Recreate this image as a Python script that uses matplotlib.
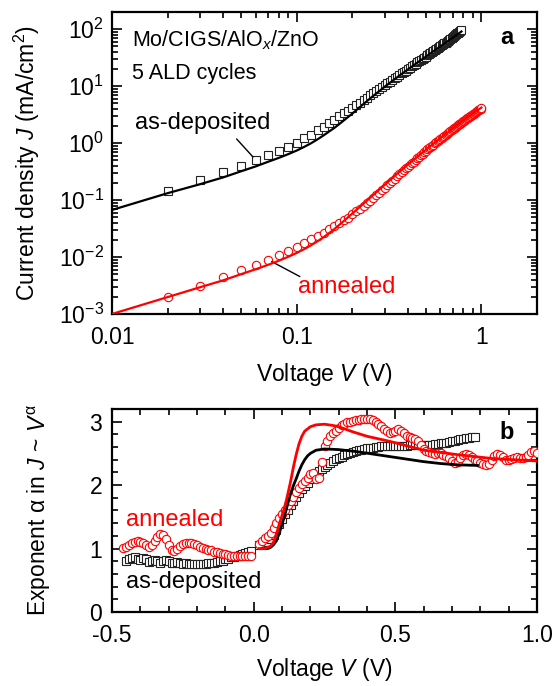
import numpy as np
import matplotlib
matplotlib.use('Agg')
import matplotlib.pyplot as plt
from matplotlib import ticker

plt.rcParams['font.family'] = ['Liberation Sans', 'DejaVu Sans']
plt.rcParams['mathtext.fontset'] = 'custom'
plt.rcParams['mathtext.rm'] = 'Liberation Sans'
plt.rcParams['mathtext.it'] = 'Liberation Sans:italic'
plt.rcParams['mathtext.bf'] = 'Liberation Sans:bold'
plt.rcParams['axes.unicode_minus'] = False

# ---- panel a: J-V on log-log scales (measured at 10 mV steps)

V_dep = np.round(np.arange(2, 79) * 0.01, 2)  # 0.02 ... 0.78 V
J_dep = [0.147, 0.226, 0.308, 0.403, 0.507, 0.619, 0.738, 0.867, 1.02, 1.21,
         1.41, 1.67, 1.95, 2.26, 2.59, 2.93, 3.31, 3.72, 4.17, 4.65,
         5.15, 5.71, 6.27, 6.89, 7.52, 8.17, 8.87, 9.59, 10.4, 11.2,
         12.0, 12.9, 13.8, 14.7, 15.7, 16.7, 17.8, 18.8, 20.0, 21.1,
         22.3, 23.4, 24.7, 26.1, 27.4, 28.8, 30.1, 31.6, 33.1, 34.8,
         36.2, 37.8, 39.4, 41.1, 42.9, 44.7, 46.3, 48.4, 50.2, 52.1,
         54.1, 56.0, 58.1, 60.3, 62.8, 65.2, 67.9, 70.5, 72.9, 75.7,
         78.3, 81.3, 84.3, 87.3, 90.6, 93.3, 96.6]

V_ann = np.round(np.arange(2, 101) * 0.01, 2)  # 0.02 ... 1.00 V
J_ann = [0.00195, 0.00312, 0.00444, 0.0058, 0.0073, 0.0089, 0.0109, 0.0130, 0.0152, 0.0179,
         0.0206, 0.0235, 0.0269, 0.0308, 0.0352, 0.0393, 0.0449, 0.0492, 0.0565, 0.0637,
         0.0708, 0.0794, 0.0881, 0.0977, 0.109, 0.121, 0.135, 0.149, 0.164, 0.181,
         0.199, 0.219, 0.238, 0.260, 0.282, 0.306, 0.333, 0.359, 0.387, 0.416,
         0.445, 0.474, 0.507, 0.541, 0.578, 0.612, 0.650, 0.690, 0.731, 0.773,
         0.811, 0.851, 0.893, 0.940, 0.986, 1.035, 1.081, 1.135, 1.183, 1.233,
         1.282, 1.337, 1.393, 1.449, 1.510, 1.563, 1.629, 1.687, 1.746, 1.807,
         1.866, 1.932, 2.000, 2.070, 2.138, 2.198, 2.275, 2.355, 2.421, 2.489,
         2.570, 2.642, 2.716, 2.793, 2.871, 2.972, 3.034, 3.119, 3.206, 3.296,
         3.388, 3.467, 3.565, 3.664, 3.750, 3.855, 3.936, 4.046, 4.140]

# model curves
Vfit_dep = [0.01, 0.02, 0.03, 0.04, 0.05, 0.06, 0.07, 0.08, 0.09, 0.10, 0.11, 0.12, 0.13,
            0.14, 0.15, 0.16, 0.18, 0.20, 0.22, 0.25, 0.30, 0.35, 0.40, 0.45, 0.50,
            0.55, 0.60, 0.65, 0.70, 0.75, 0.78]
Jfit_dep = [0.067, 0.132, 0.19, 0.25, 0.32, 0.39, 0.47, 0.55, 0.64, 0.74, 0.86, 1.0, 1.17,
            1.37, 1.6, 1.85, 2.5, 3.3, 4.3, 6.1, 9.8, 14.3, 19.6, 25.8, 32.8,
            40.8, 49.8, 59.8, 71.0, 83.0, 91.0]
Vfit_ann = [0.01, 0.02, 0.03, 0.04, 0.05, 0.06, 0.07, 0.08, 0.09, 0.10, 0.11, 0.12, 0.13,
            0.14, 0.15, 0.16, 0.18, 0.20, 0.22, 0.25, 0.30, 0.35, 0.40, 0.50, 0.60,
            0.70, 0.80, 0.90, 1.00]
Jfit_ann = [0.0010, 0.00198, 0.00295, 0.0039, 0.0050, 0.0061, 0.0073, 0.0086, 0.0101, 0.0118,
            0.0138, 0.0162, 0.019, 0.0224, 0.0264, 0.031, 0.043, 0.058, 0.076, 0.110,
            0.186, 0.29, 0.42, 0.76, 1.22, 1.80, 2.50, 3.3, 4.2]

# ---- panel b: exponent alpha = dlnJ/dlnV

Vb_dep_neg = np.round(np.arange(-45, 0) * 0.01, 2)  # -0.45 ... -0.01 V
a_dep_neg = [0.80, 0.83, 0.85, 0.86, 0.84, 0.82, 0.85, 0.83, 0.79, 0.80,
             0.82, 0.81, 0.78, 0.80, 0.82, 0.80, 0.78, 0.77, 0.79, 0.78,
             0.76, 0.77, 0.76, 0.75, 0.76, 0.76, 0.75, 0.76, 0.76, 0.77,
             0.77, 0.78, 0.79, 0.80, 0.81, 0.83, 0.84, 0.86, 0.87, 0.88,
             0.90, 0.92, 0.93, 0.95, 0.96]
a_dep_pos = [1.05, 1.06, 1.08, 1.11, 1.15, 1.21, 1.29, 1.38, 1.46, 1.54,
             1.61, 1.68, 1.75, 1.82, 1.88, 1.94, 1.99, 2.04, 2.09, 2.14,
             2.18, 2.22, 2.26, 2.29, 2.32, 2.35, 2.38, 2.41, 2.43, 2.45,
             2.47, 2.49, 2.51, 2.52, 2.54, 2.55, 2.56, 2.57, 2.58, 2.59,
             2.59, 2.60, 2.60, 2.61, 2.61, 2.61, 2.62, 2.62, 2.62, 2.62,
             2.62, 2.62, 2.62, 2.63, 2.63, 2.63, 2.63, 2.63, 2.63, 2.64,
             2.64, 2.64, 2.65, 2.65, 2.66, 2.66, 2.67, 2.68, 2.69, 2.70,
             2.71, 2.72, 2.73, 2.74, 2.75, 2.76, 2.76]

Vb_ann_neg = np.round(np.arange(-46, 0) * 0.01, 2)  # -0.46 ... -0.01 V
a_ann_neg = [1.01, 1.03, 1.06, 1.09, 1.11, 1.12, 1.11, 1.08, 1.05, 1.03,
             1.06, 1.12, 1.18, 1.23, 1.22, 1.15, 1.05, 0.97, 0.96, 1.00,
             1.04, 1.07, 1.08, 1.09, 1.08, 1.07, 1.05, 1.03, 1.01, 0.99,
             0.98, 0.97, 0.95, 0.94, 0.93, 0.92, 0.91, 0.90, 0.89, 0.89,
             0.88, 0.88, 0.88, 0.89, 0.89, 0.89]
a_ann_pos = [1.07, 1.12, 1.16, 1.20, 1.25, 1.32, 1.40, 1.48, 1.55, 1.61,
             1.68, 1.75, 1.82, 1.89, 1.95, 2.01, 2.07, 2.12, 2.17, 2.19,
             2.10, 2.12, 2.37, 2.62, 2.70, 2.77, 2.82, 2.86, 2.90, 2.94,
             2.97, 2.99, 3.00, 3.01, 3.02, 3.03, 3.04, 3.05, 3.05, 3.04,
             3.02, 3.00, 2.97, 2.93, 2.89, 2.85, 2.82, 2.83, 2.86, 2.88,
             2.86, 2.82, 2.78, 2.76, 2.74, 2.73, 2.70, 2.64, 2.57, 2.53,
             2.52, 2.50, 2.49, 2.50, 2.50, 2.48, 2.46, 2.42, 2.38, 2.35,
             2.36, 2.42, 2.47, 2.49, 2.48, 2.44, 2.40, 2.38, 2.35, 2.33,
             2.32, 2.34, 2.40, 2.46, 2.49, 2.48, 2.44, 2.40, 2.39, 2.41,
             2.43, 2.44, 2.43, 2.42, 2.44, 2.48, 2.52, 2.53, 2.50]

Vafit_dep = [0.03, 0.05, 0.06, 0.07, 0.08, 0.09, 0.10, 0.11, 0.12, 0.13, 0.14, 0.15, 0.16,
             0.17, 0.18, 0.19, 0.20, 0.22, 0.25, 0.30, 0.36, 0.42, 0.48, 0.54, 0.60,
             0.66, 0.72, 0.79]
afit_dep = [1.00, 1.00, 1.02, 1.06, 1.12, 1.24, 1.38, 1.53, 1.70, 1.86, 1.99, 2.10, 2.22,
            2.32, 2.40, 2.46, 2.50, 2.55, 2.57, 2.56, 2.53, 2.49, 2.45, 2.41, 2.37,
            2.34, 2.32, 2.31]
Vafit_ann = [0.02, 0.04, 0.06, 0.07, 0.08, 0.09, 0.10, 0.11, 0.12, 0.13, 0.14, 0.15, 0.16,
             0.17, 0.18, 0.20, 0.22, 0.25, 0.28, 0.30, 0.35, 0.40, 0.48, 0.60, 0.72,
             0.84, 1.00]
afit_ann = [1.00, 1.00, 1.04, 1.10, 1.22, 1.38, 1.52, 1.66, 1.85, 2.05, 2.28, 2.48, 2.65,
            2.77, 2.85, 2.92, 2.95, 2.96, 2.94, 2.92, 2.84, 2.77, 2.69, 2.55, 2.48,
            2.42, 2.38]

red = '#ff0000'
sq_kw = dict(marker='s', ms=5.2, mfc='white', mec='#222222', mew=0.8, ls='none')
ci_kw = dict(marker='o', ms=6, mfc='white', mec=red, mew=0.8, ls='none')


def log_label(v, pos):
    e = int(round(np.log10(v)))
    return '10$^{\\mathregular{%d}}$' % e


fig = plt.figure(figsize=(5.54, 6.86), dpi=100)
ax = fig.add_axes([0.2022, 0.5423, 0.7671, 0.4402])
ax2 = fig.add_axes([0.2022, 0.1079, 0.7671, 0.2959])

# panel a
ax.plot(V_dep, J_dep, **sq_kw, zorder=3)
ax.plot(V_ann, J_ann, **ci_kw, zorder=3)
ax.plot(Vfit_dep, Jfit_dep, color='k', lw=1.6, zorder=4)
ax.plot(Vfit_ann, Jfit_ann, color=red, lw=1.6, zorder=4)
ax.set_xscale('log')
ax.set_yscale('log')
ax.set_xlim(0.01, 2)
ax.set_ylim(1e-3, 2e2)
ax.xaxis.set_major_formatter(ticker.FuncFormatter(lambda v, p: '%g' % v))
ax.yaxis.set_major_locator(ticker.LogLocator(base=10, numticks=20))
ax.yaxis.set_minor_locator(ticker.LogLocator(base=10, subs=np.arange(2, 10), numticks=20))
ax.yaxis.set_major_formatter(ticker.FuncFormatter(log_label))
ax.yaxis.set_minor_formatter(ticker.NullFormatter())
ax.xaxis.set_minor_formatter(ticker.NullFormatter())
ax.set_xlabel('Voltage $V$ (V)', fontsize=16.5, va='top')
ax.set_ylabel('Current density $J$ (mA/cm$^2$)', fontsize=16.5)
ax.yaxis.set_label_coords(-0.165, 0.5)
ax.xaxis.set_label_coords(0.5, -0.155)

ax.text(0.046, 0.907, 'Mo/CIGS/AlO$_{x}$/ZnO', transform=ax.transAxes, fontsize=15.5, va='center')
ax.text(0.046, 0.795, '5 ALD cycles', transform=ax.transAxes, fontsize=15.5, va='center')
ax.text(0.929, 0.917, 'a', transform=ax.transAxes, fontsize=17, fontweight='bold', ha='center', va='center')
ax.text(0.054, 0.632, 'as-deposited', transform=ax.transAxes, fontsize=17, va='center')
ax.annotate('', xy=(0.058, 0.57), xytext=(0.0473, 1.18),
            arrowprops=dict(arrowstyle='-', color='k', lw=1, shrinkA=0, shrinkB=0))
ax.text(0.438, 0.0904, 'annealed', transform=ax.transAxes, fontsize=17, va='center', color=red)
ax.annotate('', xy=(0.0732, 0.00832), xytext=(0.104, 0.00454),
            arrowprops=dict(arrowstyle='-', color='k', lw=1, shrinkA=0, shrinkB=0))

# panel b
ax2.plot(Vb_dep_neg, a_dep_neg, **sq_kw, zorder=3)
ax2.plot(V_dep, a_dep_pos, **sq_kw, zorder=3)
ax2.plot(Vb_ann_neg, a_ann_neg, **ci_kw, zorder=3)
ax2.plot(V_ann, a_ann_pos, **ci_kw, zorder=3)
ax2.plot(Vafit_dep, afit_dep, color='k', lw=2, zorder=4)
ax2.plot(Vafit_ann, afit_ann, color=red, lw=2, zorder=4)
ax2.set_xlim(-0.5, 1.0)
ax2.set_ylim(0, 3.2)
ax2.xaxis.set_major_locator(ticker.MultipleLocator(0.5))
ax2.xaxis.set_minor_locator(ticker.MultipleLocator(0.1))
ax2.xaxis.set_major_formatter(ticker.FormatStrFormatter('%.1f'))
ax2.yaxis.set_major_locator(ticker.MultipleLocator(1))
ax2.yaxis.set_minor_locator(ticker.MultipleLocator(0.2))
ax2.set_xlabel('Voltage $V$ (V)', fontsize=16.5, va='top')
ax2.set_ylabel('Exponent α in $J$ ~ $V^{\\mathregular{α}}$', fontsize=16.5)
ax2.yaxis.set_label_coords(-0.138, 0.5)
ax2.xaxis.set_label_coords(0.5, -0.215)

ax2.text(0.929, 0.882, 'b', transform=ax2.transAxes, fontsize=17, fontweight='bold', ha='center', va='center')
ax2.text(0.033, 0.453, 'annealed', transform=ax2.transAxes, fontsize=17, va='center', color=red)
ax2.text(0.033, 0.149, 'as-deposited', transform=ax2.transAxes, fontsize=17, va='center')

for a in (ax, ax2):
    a.tick_params(which='both', direction='in', top=True, right=True, labelsize=16.5, width=1.2)
    a.tick_params(which='major', length=7, pad=9)
    a.tick_params(which='minor', length=4)
    for s in a.spines.values():
        s.set_linewidth(1.6)
ax.tick_params(axis='y', which='major', pad=6)
ax2.tick_params(axis='y', which='major', pad=7)

fig.savefig('out.png', dpi=100)
